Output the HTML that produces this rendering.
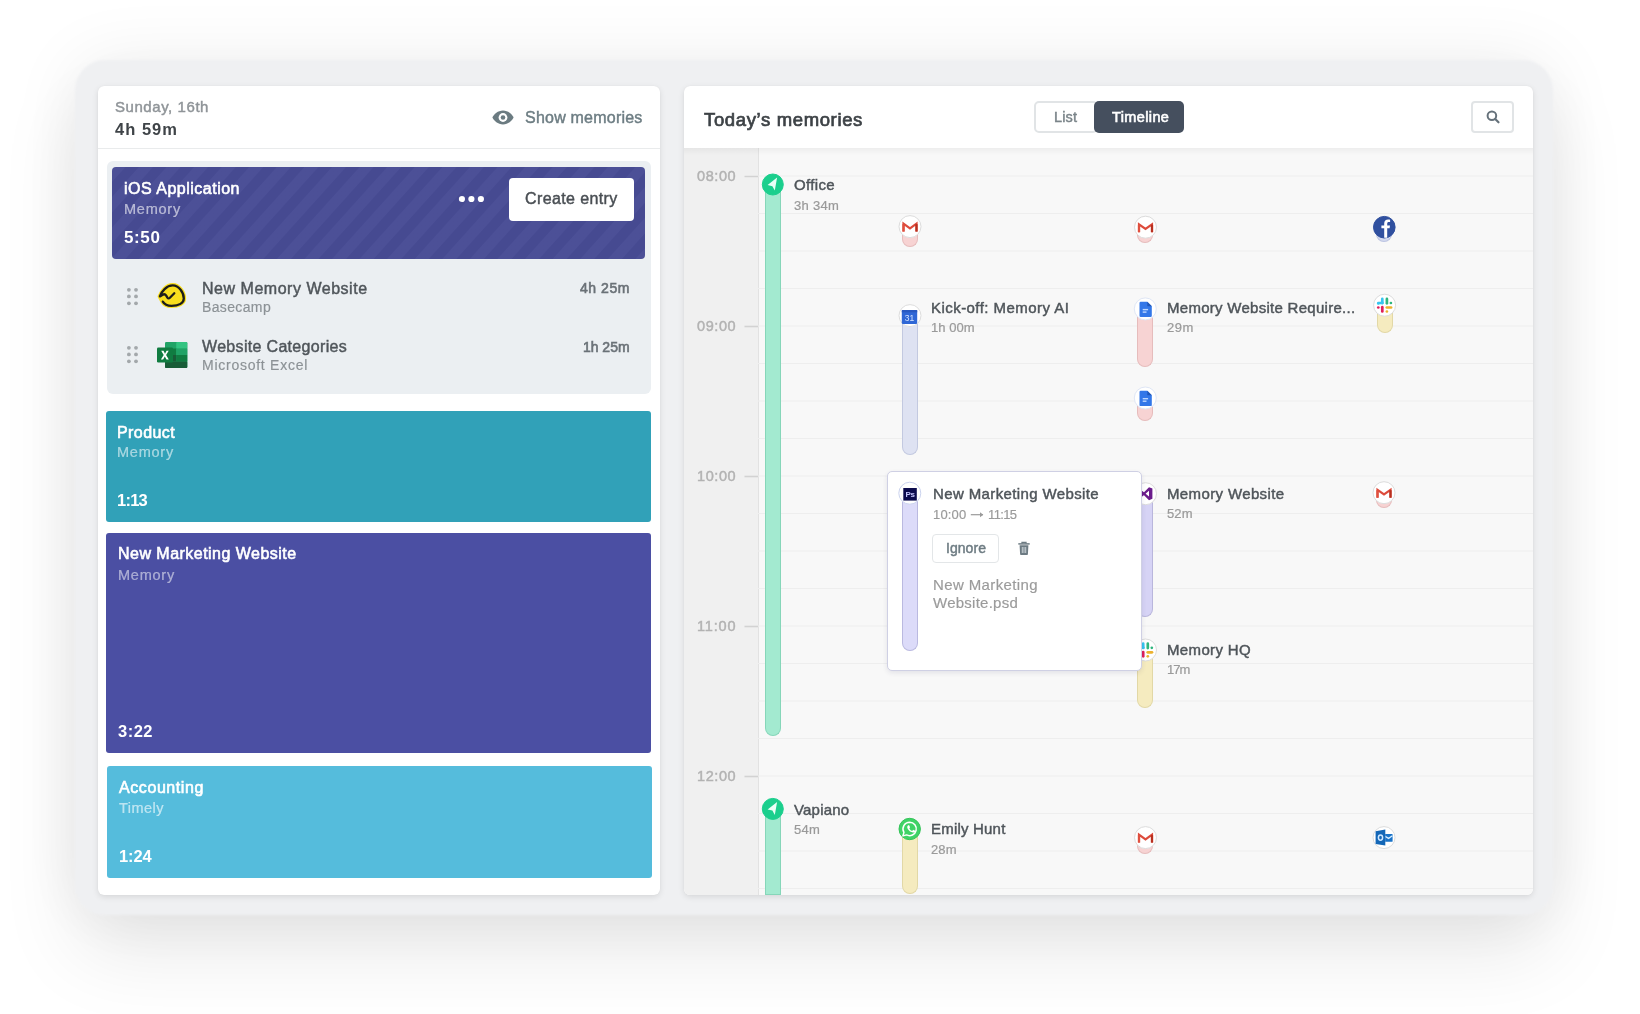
<!DOCTYPE html>
<html><head><meta charset="utf-8"><title>Memory timeline</title>
<style>
*{box-sizing:border-box;margin:0;padding:0}
html,body{width:1640px;height:1014px;overflow:hidden}
body{position:relative;background:#fff;font-family:"Liberation Sans",sans-serif;}
.t{position:absolute;white-space:pre;z-index:6;will-change:transform}
.abs{position:absolute}
.frame{position:absolute;left:75px;top:60px;width:1478px;height:855px;border-radius:30px;background:#eff0f2;
  box-shadow:0 40px 80px rgba(0,0,0,.085),0 0 70px rgba(0,0,0,.07);filter:blur(1.2px);}
.card{position:absolute;background:#fff;border-radius:6px;box-shadow:0 2px 6px rgba(0,0,0,.10),0 0 1px rgba(0,0,0,.08);overflow:hidden}
.lcard{left:98px;top:85.5px;width:562px;height:809.5px}
.rcard{left:684px;top:85.5px;width:849px;height:809.5px}
.blk{position:absolute;border-radius:3px}
.bar{position:absolute;width:16px;border-radius:0 0 8px 8px;border:1px solid}
.ic{position:absolute;width:23px;height:23px;border-radius:50%;background:#fff;border:1px solid #e6e6e6;overflow:hidden}
.ic svg{position:absolute;left:0;top:0}
#app{position:absolute;left:0;top:0;width:1640px;height:1014px;filter:blur(.4px)}

</style></head>
<body>
<div id="app">
<div class="frame"></div>

<!-- LEFT CARD -->
<div class="card lcard"></div>
<div class="abs" style="left:98px;top:148px;width:562px;height:1px;background:#e9ebec"></div>
<div class="abs" style="left:106.5px;top:160.5px;width:544.5px;height:233.5px;border-radius:6px;background:#ebeff2"></div>
<div class="blk" style="left:112px;top:166.7px;width:533px;height:92px;border-radius:4px;background:#474b94 repeating-linear-gradient(132deg,rgba(255,255,255,.028) 0,rgba(255,255,255,.028) 9.500px,rgba(0,0,0,.02) 10.500px,rgba(0,0,0,.02) 19.500px,rgba(255,255,255,.028) 20.500px)"></div>
<div class="abs" style="left:509px;top:178px;width:125px;height:42.5px;border-radius:4px;background:#fff"></div>
<svg class="abs" style="left:455px;top:193px" width="32" height="12"><circle cx="6.9" cy="6" r="3.1" fill="#fff"/><circle cx="16.4" cy="6" r="3.1" fill="#fff"/><circle cx="25.9" cy="6" r="3.1" fill="#fff"/></svg>
<!-- eye -->
<svg class="abs" style="left:491.5px;top:109.7px" width="22" height="15" viewBox="0 0 22 15"><path d="M11 .6C5.800 .6 2 4.300 .4 7.500 2 10.700 5.800 14.400 11 14.400s9-3.700 10.600-6.900C20 4.300 16.200 .6 11 .6z" fill="#6b7b81"/><circle cx="11" cy="7.500" r="4.400" fill="#fff"/><circle cx="11" cy="7.500" r="2.300" fill="#6b7b81"/></svg>
<!-- drag handles -->
<svg class="abs" style="left:125px;top:286px" width="16" height="22"><g fill="#a3a8ab"><circle cx="3.900" cy="3.800" r="1.900"/><circle cx="11" cy="3.800" r="1.900"/><circle cx="3.900" cy="10.400" r="1.900"/><circle cx="11" cy="10.400" r="1.900"/><circle cx="3.900" cy="17.300" r="1.900"/><circle cx="11" cy="17.300" r="1.900"/></g></svg>
<svg class="abs" style="left:125px;top:344.200px" width="16" height="22"><g fill="#a3a8ab"><circle cx="3.900" cy="3.800" r="1.900"/><circle cx="11" cy="3.800" r="1.900"/><circle cx="3.900" cy="10.400" r="1.900"/><circle cx="11" cy="10.400" r="1.900"/><circle cx="3.900" cy="17.300" r="1.900"/><circle cx="11" cy="17.300" r="1.900"/></g></svg>
<!-- basecamp -->
<svg class="abs" style="left:157px;top:282px" width="30" height="27" viewBox="0 0 30 27"><path d="M5.800 19.600C7.500 22.600 11 23.800 14.500 23.800 21 23.800 26.800 21.500 26.800 16.500 26.800 10.500 22 3.400 15.700 3.400 9.500 3.400 4.500 9.500 2.900 14.400z" fill="#f8de1e" stroke="#f8de1e" stroke-width="4.600" stroke-linejoin="round"/><path d="M5.800 19.600C7.500 22.600 11 23.800 14.500 23.800 21 23.800 26.800 21.500 26.800 16.500 26.800 10.500 22 3.400 15.700 3.400 9.500 3.400 4.500 9.500 2.900 14.400L5.300 12.900Q7.800 11.400 9.200 13.600L10.400 15.600Q11.500 17.100 12.900 15.700L17.300 11.300" fill="none" stroke="#1d1d1b" stroke-width="2.300" stroke-linecap="round" stroke-linejoin="round"/></svg>
<!-- excel -->
<svg class="abs" style="left:156.800px;top:342px" width="31" height="27" viewBox="0 0 31 27"><rect x="8" y="0" width="22.300" height="26" rx="1.300" fill="#21a366"/><rect x="19.200" y="0" width="11.100" height="6.700" rx="1" fill="#33c481"/><rect x="8" y="6.500" width="11.200" height="6.500" fill="#107c41"/><rect x="19.200" y="6.500" width="11.100" height="6.500" fill="#21a366"/><rect x="8" y="13" width="11.200" height="6.500" fill="#185c37"/><rect x="19.200" y="13" width="11.100" height="6.500" fill="#107c41"/><rect x="8" y="19.500" width="22.300" height="6.500" rx="1" fill="#185c37"/><rect x="0" y="5.600" width="16" height="14.900" rx="1.300" fill="#107c41"/><path d="M4.200 8.800h2.300l1.500 2.900 1.600-2.900h2.100l-2.600 4.300 2.700 4.500H9.500l-1.700-3.100-1.700 3.100H3.900l2.800-4.500z" fill="#fff"/></svg>

<div class="blk" style="left:106px;top:410.500px;width:545px;height:111.200px;background:#31a1b8"></div>
<div class="blk" style="left:106px;top:532.700px;width:545px;height:220.600px;background:#4b4fa3"></div>
<div class="blk" style="left:107.300px;top:766.400px;width:544.500px;height:111.600px;background:#55bcdc"></div>

<!-- RIGHT CARD -->
<div class="card rcard">
  <div class="abs" style="left:0;top:62.500px;width:849px;height:760px;background:#f8f8f8"></div>
  <div class="abs" style="left:0;top:62.500px;width:74px;height:760px;background:#f0f0f0"></div>
  <div class="abs" style="left:73.500px;top:62.500px;width:1px;height:760px;background:#e2e2e2"></div>
  <svg class="abs" style="left:0;top:0" width="849" height="810">
    <g stroke="#eeeeee" stroke-width="1.200">
      <path d="M74 90.0H849"/><path d="M74 127.5H849"/><path d="M74 165.0H849"/><path d="M74 202.5H849"/><path d="M74 240.0H849"/><path d="M74 277.5H849"/><path d="M74 315.0H849"/><path d="M74 352.5H849"/><path d="M74 390.0H849"/><path d="M74 427.5H849"/><path d="M74 465.0H849"/><path d="M74 502.5H849"/><path d="M74 540.0H849"/><path d="M74 577.5H849"/><path d="M74 615.0H849"/><path d="M74 652.5H849"/><path d="M74 690.0H849"/><path d="M74 727.5H849"/><path d="M74 765.0H849"/><path d="M74 802.5H849"/>
    </g>
    <g stroke="#d2d2d2" stroke-width="1.600"><path d="M60.500 90.5H74"/><path d="M60.500 240.5H74"/><path d="M60.500 390.5H74"/><path d="M60.500 540.5H74"/><path d="M60.500 690.5H74"/></g>
  </svg>
  <div class="abs" style="left:0;top:62.500px;width:849px;height:7px;background:linear-gradient(rgba(0,0,0,.045),rgba(0,0,0,0))"></div>
</div>
<!-- toggle -->
<div class="abs" style="left:1033.500px;top:100.800px;width:64px;height:32px;border:2px solid #e1e4e6;border-radius:5px;background:#fff"></div>
<div class="abs" style="left:1094px;top:100.500px;width:90px;height:32.600px;border-radius:5px;background:#454f5e"></div>
<div class="abs" style="left:1471px;top:101px;width:43px;height:31.500px;border:2px solid #e1e4e6;border-radius:4px;background:#fff"></div>
<svg class="abs" style="left:1485px;top:109px" width="16" height="16" viewBox="0 0 16 16"><circle cx="6.900" cy="6.700" r="4.300" fill="none" stroke="#66727b" stroke-width="2"/><path d="M10.200 10l3.300 3.300" stroke="#66727b" stroke-width="2.200" stroke-linecap="round"/></svg>

<div class="abs" style="left:764.5px;top:184.5px;width:16.4px;height:551.0px;background:#a3ead0;border:1px solid #86d6b9;border-top:0;border-radius:0 0 8.2px 8.2px;z-index:1"></div>
<div class="abs" style="left:764.5px;top:809px;width:16.4px;height:85.8px;background:#a3ead0;border:1px solid #86d6b9;border-top:0;border-radius:0;z-index:1"></div>
<div class="abs" style="left:902px;top:227px;width:16px;height:19.6px;background:#f7d3d3;border:1px solid #e6bcbc;border-top:0;border-radius:0 0 8.0px 8.0px;z-index:1"></div>
<div class="abs" style="left:902px;top:316px;width:16px;height:138.5px;background:#dee2f2;border:1px solid #c3c9e0;border-top:0;border-radius:0 0 8.0px 8.0px;z-index:1"></div>
<div class="abs" style="left:902px;top:829px;width:16px;height:65px;background:#f5ebbf;border:1px solid #e2d8a6;border-top:0;border-radius:0 0 8.0px 8.0px;z-index:1"></div>
<div class="abs" style="left:1137.4px;top:227px;width:16px;height:16.3px;background:#f7d3d3;border:1px solid #e6bcbc;border-top:0;border-radius:0 0 8.0px 8.0px;z-index:1"></div>
<div class="abs" style="left:1137.4px;top:309px;width:16px;height:58px;background:#f7d3d3;border:1px solid #e6bcbc;border-top:0;border-radius:0 0 8.0px 8.0px;z-index:1"></div>
<div class="abs" style="left:1137.4px;top:398px;width:16px;height:23px;background:#f7d3d3;border:1px solid #e6bcbc;border-top:0;border-radius:0 0 8.0px 8.0px;z-index:1"></div>
<div class="abs" style="left:1137.4px;top:494px;width:16px;height:122.5px;background:#d6d3f5;border:1px solid #b9b6dc;border-top:0;border-radius:0 0 8.0px 8.0px;z-index:1"></div>
<div class="abs" style="left:1137.4px;top:650px;width:16px;height:58px;background:#f5ebbf;border:1px solid #e2d8a6;border-top:0;border-radius:0 0 8.0px 8.0px;z-index:1"></div>
<div class="abs" style="left:1137.4px;top:838px;width:16px;height:15.5px;background:#f7d3d3;border:1px solid #e6bcbc;border-top:0;border-radius:0 0 8.0px 8.0px;z-index:1"></div>
<div class="abs" style="left:1376.3px;top:228px;width:16px;height:14px;background:#d3d9ee;border:1px solid #bcc4e2;border-top:0;border-radius:0 0 8.0px 8.0px;z-index:1"></div>
<div class="abs" style="left:1376.6px;top:306px;width:16px;height:27px;background:#f5ebbf;border:1px solid #e2d8a6;border-top:0;border-radius:0 0 8.0px 8.0px;z-index:1"></div>
<div class="abs" style="left:1376px;top:493px;width:16px;height:15.3px;background:#f7d3d3;border:1px solid #e6bcbc;border-top:0;border-radius:0 0 8.0px 8.0px;z-index:1"></div>
<svg class="abs" style="left:760px;top:172px;z-index:2" width="26" height="26"><g transform="translate(12.8 12.5)"><circle r="10.5" fill="#1bcf8d" stroke="#1bcf8d" stroke-width="1"/><path d="M4.300 -6.900L-5.200 .6l4.800 1.100 2.400 4.300z" fill="#e9fff6"/></g></svg>
<svg class="abs" style="left:760px;top:796px;z-index:2" width="26" height="26"><g transform="translate(12.8 12.9)"><circle r="10.5" fill="#1bcf8d" stroke="#1bcf8d" stroke-width="1"/><path d="M4.300 -6.900L-5.200 .6l4.800 1.100 2.400 4.300z" fill="#e9fff6"/></g></svg>
<svg class="abs" style="left:897px;top:214px;z-index:2" width="27" height="27"><g transform="translate(13 12.6)"><circle r="11.0" fill="#fff" stroke="#dcdcdc" stroke-width="1"/><path d="M-6.500 5V-2.900L0 1.800 6.500 -2.900V5" fill="none" stroke="#dd4b3c" stroke-width="2.200" stroke-linejoin="miter"/><path d="M6.500 5V-2.500" stroke="#b8301f" stroke-width="2.200"/><path d="M-6.500 5V-2.500" stroke="#e0503f" stroke-width="2.200"/></g></svg>
<svg class="abs" style="left:897px;top:303px;z-index:2;will-change:transform" width="27" height="27"><g transform="translate(13 12.6)"><circle r="11.0" fill="#fff" stroke="#dcdcdc" stroke-width="1"/><rect x="-8.200" y="-5.500" width="15.400" height="13.800" rx="0.800" fill="#2f67d6"/><rect x="-8.200" y="-5.500" width="15.400" height="2.200" fill="#2858c0"/><text x="-0.500" y="5.200" style="font-family:&quot;Liberation Sans&quot;,sans-serif" font-size="8.500" font-weight="400" fill="#d4e3ff" text-anchor="middle">31</text></g></svg>
<svg class="abs" style="left:897px;top:816px;z-index:2" width="26" height="26"><g transform="translate(12.7 13)"><circle r="10.7" fill="#3fd366" stroke="#35c45a" stroke-width="1"/><path d="M0 -6.800a6.700 6.700 0 0 0-5.750 10.150L-6.800 6.900l3.700-1a6.700 6.700 0 1 0 3.100-12.700z" fill="none" stroke="#fff" stroke-width="1.500" stroke-linejoin="round"/><path d="M-2.300 -3.500c-.3-.6-.5-.6-.8-.6h-.6c-.2 0-.6.100-.9.400-.3.400-1.100 1.100-1.100 2.600s1.100 3 1.300 3.200c.2.200 2.200 3.500 5.400 4.700 2.700 1 3.200.8 3.800.8.600-.1 1.900-.8 2.100-1.500.3-.8.300-1.400.2-1.500-.1-.2-.3-.2-.6-.4l-2.200-1c-.3-.1-.5-.2-.7.200-.2.300-.8 1-1 1.200-.2.200-.4.200-.7.100-.3-.2-1.300-.5-2.500-1.500-.9-.8-1.500-1.800-1.700-2.100-.2-.3 0-.5.100-.7l.5-.6c.2-.2.200-.3.300-.5.100-.2.100-.4 0-.6z" fill="#fff" transform="translate(1.100,-1.100) scale(.62)"/></g></svg>
<svg class="abs" style="left:1133px;top:214px;z-index:2" width="27" height="27"><g transform="translate(12.5 13.2)"><circle r="11.0" fill="#fff" stroke="#dcdcdc" stroke-width="1"/><path d="M-6.500 5V-2.900L0 1.800 6.500 -2.900V5" fill="none" stroke="#dd4b3c" stroke-width="2.200" stroke-linejoin="miter"/><path d="M6.500 5V-2.500" stroke="#b8301f" stroke-width="2.200"/><path d="M-6.500 5V-2.500" stroke="#e0503f" stroke-width="2.200"/></g></svg>
<svg class="abs" style="left:1132px;top:296px;z-index:2" width="27" height="27"><g transform="translate(13.3 12.9)"><circle r="11.0" fill="#fff" stroke="#dfe6f5" stroke-width="1"/><path d="M-4.600 -7.200h6.600l4.500 4.500v9.600a1.200 1.200 0 0 1-1.200 1.200h-9.900a1.200 1.200 0 0 1-1.200-1.200v-12.900a1.200 1.200 0 0 1 1.200-1.200z" fill="#3377e8"/><path d="M2 -7.200l4.500 4.500h-4.500z" fill="#1f56b8"/><rect x="-2.600" y="0" width="5.400" height="1.400" fill="#bcd6ff"/><rect x="-2.600" y="2.500" width="3.800" height="1.400" fill="#bcd6ff"/></g></svg>
<svg class="abs" style="left:1132px;top:385px;z-index:2" width="27" height="27"><g transform="translate(13.3 13)"><circle r="11.0" fill="#fff" stroke="#dfe6f5" stroke-width="1"/><path d="M-4.600 -7.200h6.600l4.500 4.500v9.600a1.200 1.200 0 0 1-1.200 1.200h-9.900a1.200 1.200 0 0 1-1.200-1.200v-12.900a1.200 1.200 0 0 1 1.200-1.200z" fill="#3377e8"/><path d="M2 -7.200l4.500 4.500h-4.500z" fill="#1f56b8"/><rect x="-2.600" y="0" width="5.400" height="1.400" fill="#bcd6ff"/><rect x="-2.600" y="2.500" width="3.800" height="1.400" fill="#bcd6ff"/></g></svg>
<svg class="abs" style="left:1133px;top:481px;z-index:2" width="27" height="27"><g transform="translate(12.5 12.7)"><circle r="11.0" fill="#fff" stroke="#dcdcdc" stroke-width="1"/><path d="M-4.700 -1.700l2 1.700-2 1.700-1.300-.7v-2zM-4.700 1.700L3.500 -6.500l3.400 1.400v10.200l-3.400 1.400L-4.700 -1.700l1.500-1.100L3.500 2.900V-2.900L-3.200 2.800z" fill="#6b1c8c"/></g></svg>
<svg class="abs" style="left:1133px;top:637px;z-index:2" width="27" height="27"><g transform="translate(12.5 13)"><circle r="11.0" fill="#fff" stroke="#dcdcdc" stroke-width="1"/><g stroke-linecap="round" stroke-width="2.700" fill="none"><path d="M-2.300 -6.300v4.200" stroke="#36c5f0"/><path d="M-6.300 -1.700h0.010" stroke="#36c5f0"/><path d="M-6.300 -2.200h4.200" stroke="#36c5f0" stroke-width="2.500"/><path d="M2.300 -6.300v4.400" stroke="#2eb67d"/><path d="M6.300 -2.200h0.010" stroke="#2eb67d"/><path d="M2.200 2.300h4.300" stroke="#ecb22e"/><path d="M2.300 6.300v0.010" stroke="#ecb22e"/><path d="M-2.300 2v4.300" stroke="#e01e5a"/><path d="M-6.300 2.300h0.010" stroke="#e01e5a"/></g></g></svg>
<svg class="abs" style="left:1133px;top:825px;z-index:2" width="27" height="27"><g transform="translate(12.5 12.6)"><circle r="11.0" fill="#fff" stroke="#dcdcdc" stroke-width="1"/><path d="M-6.500 5V-2.900L0 1.800 6.500 -2.900V5" fill="none" stroke="#dd4b3c" stroke-width="2.200" stroke-linejoin="miter"/><path d="M6.500 5V-2.500" stroke="#b8301f" stroke-width="2.200"/><path d="M-6.500 5V-2.500" stroke="#e0503f" stroke-width="2.200"/></g></svg>
<svg class="abs" style="left:1372px;top:214px;z-index:2" width="26" height="26"><g transform="translate(12.3 13.2)"><circle r="10.8" fill="#30509f" stroke="#30509f" stroke-width="1"/><path d="M-.1 10.500V1H-2.900V-1.700H-.1V-3.700C-.1-6.200 1.400-7.600 3.800-7.600c.9 0 1.700.1 2 .1v2.400H4.600c-1.300 0-1.700.7-1.700 1.700V-1.700h2.800l-.4 2.700H2.900V10.500z" fill="#fff"/></g></svg>
<svg class="abs" style="left:1372px;top:292px;z-index:2" width="27" height="27"><g transform="translate(12.6 13.2)"><circle r="11.0" fill="#fff" stroke="#dcdcdc" stroke-width="1"/><g stroke-linecap="round" stroke-width="2.700" fill="none"><path d="M-2.300 -6.300v4.200" stroke="#36c5f0"/><path d="M-6.300 -1.700h0.010" stroke="#36c5f0"/><path d="M-6.300 -2.200h4.200" stroke="#36c5f0" stroke-width="2.500"/><path d="M2.300 -6.300v4.400" stroke="#2eb67d"/><path d="M6.300 -2.200h0.010" stroke="#2eb67d"/><path d="M2.200 2.300h4.300" stroke="#ecb22e"/><path d="M2.300 6.300v0.010" stroke="#ecb22e"/><path d="M-2.300 2v4.300" stroke="#e01e5a"/><path d="M-6.300 2.300h0.010" stroke="#e01e5a"/></g></g></svg>
<svg class="abs" style="left:1371px;top:480px;z-index:2" width="27" height="27"><g transform="translate(13 12.7)"><circle r="11.0" fill="#fff" stroke="#dcdcdc" stroke-width="1"/><path d="M-6.500 5V-2.900L0 1.800 6.500 -2.900V5" fill="none" stroke="#dd4b3c" stroke-width="2.200" stroke-linejoin="miter"/><path d="M6.500 5V-2.500" stroke="#b8301f" stroke-width="2.200"/><path d="M-6.500 5V-2.500" stroke="#e0503f" stroke-width="2.200"/></g></svg>
<svg class="abs" style="left:1371px;top:825px;z-index:2" width="27" height="27"><g transform="translate(13 12.6)"><circle r="11.0" fill="#fff" stroke="#dcdcdc" stroke-width="1"/><path d="M1.200 -3.600h6.800a.6.600 0 0 1 .6.600v6.600a.6.600 0 0 1-.6.600H1.200z" fill="#1a73c8"/><path d="M1.200 -1.200l3.400 2 3.800-2.600" fill="none" stroke="#d6ecff" stroke-width="1.300"/><path d="M-8.400 -6.300L1.300 -8v16l-9.700-1.700z" fill="#1467b7"/><ellipse cx="-3.500" cy="0" rx="2.100" ry="2.600" fill="none" stroke="#cfe7ff" stroke-width="1.500"/></g></svg>
<div class="abs" style="left:887px;top:471px;width:254.500px;height:200px;background:#fff;border:1px solid #cfd0e4;border-radius:5px;box-shadow:0 2px 5px rgba(40,40,90,.10);z-index:3"></div>
<div class="abs" style="left:902px;top:494px;width:16px;height:156.5px;background:#dcdbf9;border:1px solid #bab9e0;border-top:0;border-radius:0 0 8.0px 8.0px;z-index:4"></div>
<svg class="abs" style="left:897px;top:480px;z-index:5;will-change:transform" width="27" height="27"><g transform="translate(12.8 13.2)"><circle r="11.0" fill="#fff" stroke="#cbd3ee" stroke-width="1"/><rect x="-6.500" y="-5.200" width="13.500" height="12.600" fill="#0b0b4d"/><text x="0.300" y="3.400" style="font-family:&quot;Liberation Sans&quot;,sans-serif" font-size="8" font-weight="700" fill="#c9caff" text-anchor="middle" letter-spacing="-0.300">Ps</text></g></svg>
<div class="abs" style="left:932.300px;top:534px;width:66.400px;height:29px;border:1.300px solid #e3e6e8;border-radius:4px;background:#fff;z-index:4"></div>
<svg class="abs" style="left:969.500px;top:510px;z-index:6" width="15" height="10" viewBox="0 0 15 10"><path d="M.8 4.700H13" stroke="#9a9a9a" stroke-width="1.200"/><path d="M10 2.200l3.300 2.500L10 7.200z" fill="#9a9a9a"/></svg>
<svg class="abs" style="left:1016.800px;top:541px;z-index:4" width="14" height="15" viewBox="0 0 14 15"><path d="M1.300 2.900h11.400" stroke="#6d7b83" stroke-width="1.500"/><path d="M5 2.600V1.300h4v1.300" fill="none" stroke="#6d7b83" stroke-width="1.300"/><path d="M2.600 4.300h8.800l-.5 9a.8.8 0 0 1-.8.700H3.900a.8.800 0 0 1-.8-.7z" fill="#6d7b83"/><path d="M5.300 6v6M7 6v6M8.700 6v6" stroke="#dfe6ea" stroke-width=".8"/></svg>

<!-- text -->
<div class="t" style="left:115px;top:99.3px;font-size:15px;line-height:15px;font-weight:400;color:#8f9498;letter-spacing:0.56px;-webkit-text-stroke:0.45px #8f9498;">Sunday, 16th</div>
<div class="t" style="left:115px;top:120.63px;font-size:16.5px;line-height:16.5px;font-weight:700;color:#3f4448;letter-spacing:1.02px;">4h 59m</div>
<div class="t" style="left:525.4px;top:110.46px;font-size:16px;line-height:16px;font-weight:400;color:#6d7d83;letter-spacing:0.22px;-webkit-text-stroke:0.45px #6d7d83;">Show memories</div>
<div class="t" style="left:123.6px;top:181.06px;font-size:16px;line-height:16px;font-weight:400;color:#ffffff;letter-spacing:0.5px;-webkit-text-stroke:0.6px #ffffff;">iOS Application</div>
<div class="t" style="left:123.6px;top:202.13px;font-size:14.5px;line-height:14.5px;font-weight:400;color:rgba(255,255,255,.58);letter-spacing:0.77px;-webkit-text-stroke:0.18px rgba(255,255,255,.58);">Memory</div>
<div class="t" style="left:123.6px;top:228.91px;font-size:17px;line-height:17px;font-weight:700;color:#ffffff;letter-spacing:0.62px;">5:50</div>
<div class="t" style="left:525.4px;top:191.46px;font-size:16px;line-height:16px;font-weight:400;color:#4a4f54;letter-spacing:0.38px;-webkit-text-stroke:0.45px #4a4f54;">Create entry</div>
<div class="t" style="left:202.4px;top:280.66px;font-size:16px;line-height:16px;font-weight:400;color:#4f555a;letter-spacing:0.52px;-webkit-text-stroke:0.45px #4f555a;">New Memory Website</div>
<div class="t" style="left:202.4px;top:299.95px;font-size:14px;line-height:14px;font-weight:400;color:#8c9296;letter-spacing:0.36px;-webkit-text-stroke:0.18px #8c9296;">Basecamp</div>
<div class="t" style="right:1009.95px;top:281.15px;font-size:14px;line-height:14px;font-weight:400;color:#6a7177;letter-spacing:0.55px;-webkit-text-stroke:0.6px #6a7177;">4h 25m</div>
<div class="t" style="left:202.4px;top:338.86px;font-size:16px;line-height:16px;font-weight:400;color:#4f555a;letter-spacing:0.32px;-webkit-text-stroke:0.45px #4f555a;">Website Categories</div>
<div class="t" style="left:202.4px;top:358.45px;font-size:14px;line-height:14px;font-weight:400;color:#8c9296;letter-spacing:0.74px;-webkit-text-stroke:0.18px #8c9296;">Microsoft Excel</div>
<div class="t" style="right:1010.53px;top:339.65px;font-size:14px;line-height:14px;font-weight:400;color:#6a7177;letter-spacing:-0.03px;-webkit-text-stroke:0.6px #6a7177;">1h 25m</div>
<div class="t" style="left:117.3px;top:424.86px;font-size:16px;line-height:16px;font-weight:400;color:#ffffff;letter-spacing:0.41px;-webkit-text-stroke:0.6px #ffffff;">Product</div>
<div class="t" style="left:117.3px;top:444.73px;font-size:14.5px;line-height:14.5px;font-weight:400;color:rgba(255,255,255,.55);letter-spacing:0.77px;-webkit-text-stroke:0.18px rgba(255,255,255,.55);">Memory</div>
<div class="t" style="left:117.3px;top:492.43px;font-size:16.5px;line-height:16.5px;font-weight:700;color:#ffffff;letter-spacing:-0.76px;">1:13</div>
<div class="t" style="left:117.5px;top:546.46px;font-size:16px;line-height:16px;font-weight:400;color:#ffffff;letter-spacing:0.47px;-webkit-text-stroke:0.6px #ffffff;">New Marketing Website</div>
<div class="t" style="left:117.5px;top:567.63px;font-size:14.5px;line-height:14.5px;font-weight:400;color:rgba(255,255,255,.5);letter-spacing:0.77px;-webkit-text-stroke:0.18px rgba(255,255,255,.5);">Memory</div>
<div class="t" style="left:117.5px;top:723.23px;font-size:16.5px;line-height:16.5px;font-weight:700;color:#ffffff;letter-spacing:0.49px;">3:22</div>
<div class="t" style="left:118.8px;top:780.06px;font-size:16px;line-height:16px;font-weight:400;color:#ffffff;letter-spacing:0.58px;-webkit-text-stroke:0.6px #ffffff;">Accounting</div>
<div class="t" style="left:118.8px;top:800.93px;font-size:14.5px;line-height:14.5px;font-weight:400;color:rgba(255,255,255,.6);letter-spacing:0.47px;-webkit-text-stroke:0.18px rgba(255,255,255,.6);">Timely</div>
<div class="t" style="left:118.8px;top:848.03px;font-size:16.5px;line-height:16.5px;font-weight:700;color:#ffffff;letter-spacing:-0.13px;">1:24</div>
<div class="t" style="left:704.4px;top:110.84px;font-size:18.5px;line-height:18.5px;font-weight:400;color:#3d4246;letter-spacing:0.64px;-webkit-text-stroke:0.7px #3d4246;">Today’s memories</div>
<div class="t" style="left:1053.5px;top:109.93px;font-size:14.5px;line-height:14.5px;font-weight:400;color:#7a8489;letter-spacing:0.16px;-webkit-text-stroke:0.45px #7a8489;">List</div>
<div class="t" style="left:1111.5px;top:109.93px;font-size:14.5px;line-height:14.5px;font-weight:400;color:#ffffff;letter-spacing:0.38px;-webkit-text-stroke:0.6px #ffffff;">Timeline</div>
<div class="t" style="left:696.7px;top:168.93px;font-size:14.5px;line-height:14.5px;font-weight:400;color:#b2b2b2;letter-spacing:0.6px;-webkit-text-stroke:0.45px #b2b2b2;">08:00</div>
<div class="t" style="left:696.7px;top:318.93px;font-size:14.5px;line-height:14.5px;font-weight:400;color:#b2b2b2;letter-spacing:0.6px;-webkit-text-stroke:0.45px #b2b2b2;">09:00</div>
<div class="t" style="left:696.7px;top:468.93px;font-size:14.5px;line-height:14.5px;font-weight:400;color:#b2b2b2;letter-spacing:0.6px;-webkit-text-stroke:0.45px #b2b2b2;">10:00</div>
<div class="t" style="left:696.7px;top:618.93px;font-size:14.5px;line-height:14.5px;font-weight:400;color:#b2b2b2;letter-spacing:0.82px;-webkit-text-stroke:0.45px #b2b2b2;">11:00</div>
<div class="t" style="left:696.7px;top:768.93px;font-size:14.5px;line-height:14.5px;font-weight:400;color:#b2b2b2;letter-spacing:0.6px;-webkit-text-stroke:0.45px #b2b2b2;">12:00</div>
<div class="t" style="left:794px;top:177.0px;font-size:15px;line-height:15px;font-weight:400;color:#4f555a;letter-spacing:0.35px;-webkit-text-stroke:0.45px #4f555a;">Office</div>
<div class="t" style="left:794px;top:198.8px;font-size:13px;line-height:13px;font-weight:400;color:#9a9a9a;letter-spacing:0.27px;-webkit-text-stroke:0.22px #9a9a9a;">3h 34m</div>
<div class="t" style="left:931px;top:300.0px;font-size:15px;line-height:15px;font-weight:400;color:#4f555a;letter-spacing:0.45px;-webkit-text-stroke:0.45px #4f555a;">Kick-off: Memory AI</div>
<div class="t" style="left:931px;top:320.8px;font-size:13px;line-height:13px;font-weight:400;color:#9a9a9a;letter-spacing:0.05px;-webkit-text-stroke:0.22px #9a9a9a;">1h 00m</div>
<div class="t" style="left:1166.6px;top:300.3px;font-size:15px;line-height:15px;font-weight:400;color:#4f555a;letter-spacing:0.28px;-webkit-text-stroke:0.45px #4f555a;">Memory Website Require...</div>
<div class="t" style="left:1166.6px;top:321.0px;font-size:13px;line-height:13px;font-weight:400;color:#9a9a9a;letter-spacing:0.57px;-webkit-text-stroke:0.22px #9a9a9a;">29m</div>
<div class="t" style="left:932.6px;top:486.0px;font-size:15px;line-height:15px;font-weight:400;color:#4f555a;letter-spacing:0.38px;-webkit-text-stroke:0.45px #4f555a;">New Marketing Website</div>
<div class="t" style="left:932.6px;top:507.7px;font-size:13px;line-height:13px;font-weight:400;color:#9a9a9a;letter-spacing:0.17px;-webkit-text-stroke:0.18px #9a9a9a;">10:00</div>
<div class="t" style="left:987.5px;top:507.7px;font-size:13px;line-height:13px;font-weight:400;color:#9a9a9a;letter-spacing:-0.62px;-webkit-text-stroke:0.18px #9a9a9a;">11:15</div>
<div class="t" style="left:946px;top:540.75px;font-size:14px;line-height:14px;font-weight:400;color:#6d7b82;letter-spacing:0.05px;-webkit-text-stroke:0.45px #6d7b82;">Ignore</div>
<div class="t" style="left:932.6px;top:576.9px;font-size:15px;line-height:15px;font-weight:400;color:#9b9b9b;letter-spacing:0.38px;-webkit-text-stroke:0.18px #9b9b9b;">New Marketing</div>
<div class="t" style="left:932.6px;top:594.9px;font-size:15px;line-height:15px;font-weight:400;color:#9b9b9b;letter-spacing:0.25px;-webkit-text-stroke:0.18px #9b9b9b;">Website.psd</div>
<div class="t" style="left:1166.7px;top:486.3px;font-size:15px;line-height:15px;font-weight:400;color:#4f555a;letter-spacing:0.37px;-webkit-text-stroke:0.45px #4f555a;">Memory Website</div>
<div class="t" style="left:1166.7px;top:506.8px;font-size:13px;line-height:13px;font-weight:400;color:#9a9a9a;letter-spacing:0.1px;-webkit-text-stroke:0.22px #9a9a9a;">52m</div>
<div class="t" style="left:1166.7px;top:642.1px;font-size:15px;line-height:15px;font-weight:400;color:#4f555a;letter-spacing:0.35px;-webkit-text-stroke:0.45px #4f555a;">Memory HQ</div>
<div class="t" style="left:1166.7px;top:663.1px;font-size:13px;line-height:13px;font-weight:400;color:#9a9a9a;letter-spacing:-1.0px;-webkit-text-stroke:0.22px #9a9a9a;">17m</div>
<div class="t" style="left:793.7px;top:802.2px;font-size:15px;line-height:15px;font-weight:400;color:#4f555a;letter-spacing:0.19px;-webkit-text-stroke:0.45px #4f555a;">Vapiano</div>
<div class="t" style="left:793.7px;top:823.1px;font-size:13px;line-height:13px;font-weight:400;color:#9a9a9a;letter-spacing:0.33px;-webkit-text-stroke:0.22px #9a9a9a;">54m</div>
<div class="t" style="left:930.8px;top:821.3px;font-size:15px;line-height:15px;font-weight:400;color:#4f555a;letter-spacing:0.2px;-webkit-text-stroke:0.45px #4f555a;">Emily Hunt</div>
<div class="t" style="left:930.8px;top:843.2px;font-size:13px;line-height:13px;font-weight:400;color:#9a9a9a;letter-spacing:0.13px;-webkit-text-stroke:0.22px #9a9a9a;">28m</div>
</div>
</body></html>
